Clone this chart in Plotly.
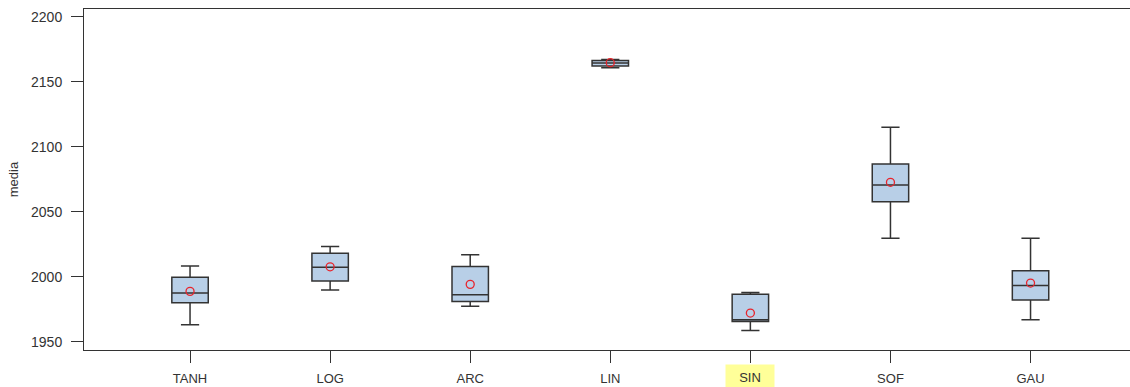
import plotly.graph_objects as go

# Summary statistics per activation function
categories = ["TANH", "LOG", "ARC", "LIN", "SIN", "SOF", "GAU"]
lower_whisker = [1963.0, 1989.7, 1977.3, 2160.7, 1958.6, 2029.5, 1966.8]
q1 = [1979.9, 1996.6, 1981.0, 2162.0, 1965.6, 2057.7, 1982.0]
median = [1987.4, 2007.2, 1986.1, 2164.3, 1966.8, 2070.6, 1993.3]
q3 = [1999.5, 2018.0, 2007.9, 2166.3, 1986.4, 2086.7, 2004.6]
upper_whisker = [2008.2, 2023.3, 2016.9, 2167.1, 1987.9, 2115.0, 2029.5]
mean = [1988.7, 2007.6, 1994.1, 2164.6, 1972.0, 2072.6, 1995.1]
y_ticks = [1950, 2000, 2050, 2100, 2150, 2200]

font_family = "Liberation Sans, Arial, sans-serif"
axis_color = "#333333"

fig = go.Figure()

fig.add_trace(go.Box(
    x=categories,
    q1=q1,
    median=median,
    q3=q3,
    lowerfence=lower_whisker,
    upperfence=upper_whisker,
    width=0.26,
    whiskerwidth=0.5,
    fillcolor="#b8cfe7",
    line=dict(color="#333333", width=1.5),
    boxpoints=False,
    showlegend=False,
))

fig.add_trace(go.Scatter(
    x=categories,
    y=mean,
    mode="markers",
    marker=dict(symbol="circle-open", color="#e8242c", size=8, line=dict(width=1.3)),
    showlegend=False,
))

# Highlighted category label
tick_text = [c if c != "SIN" else " " for c in categories]
fig.add_annotation(
    x="SIN", xref="x", y=0, yref="paper", yshift=-27,
    yanchor="middle",
    text="SIN", showarrow=False,
    font=dict(family=font_family, size=13, color="#333333"),
    bgcolor="#ffff99", borderpad=3, width=42, height=18,
)

fig.update_layout(
    width=1130, height=387,
    margin=dict(l=84, r=0, t=9, b=37),
    paper_bgcolor="white", plot_bgcolor="white",
    font=dict(family=font_family, size=13, color="#333333"),
)

fig.update_xaxes(
    type="category",
    categoryorder="array", categoryarray=categories,
    tickvals=categories, ticktext=tick_text,
    range=[-0.757, 6.71],
    showgrid=False, zeroline=False,
    showline=True, linecolor=axis_color, linewidth=1, mirror=True,
    ticks="outside", ticklen=12, tickcolor=axis_color,
    ticklabelstandoff=4,
    tickfont=dict(size=13),
)

fig.update_yaxes(
    range=[1943.6, 2205.9],
    tickvals=y_ticks,
    showgrid=False, zeroline=False,
    showline=True, linecolor=axis_color, linewidth=1,
    ticks="outside", ticklen=12, tickcolor=axis_color,
    ticklabelstandoff=6,
    tickfont=dict(size=14),
    title=dict(text="media", font=dict(size=13), standoff=9),
)

fig.write_html("out.html")
